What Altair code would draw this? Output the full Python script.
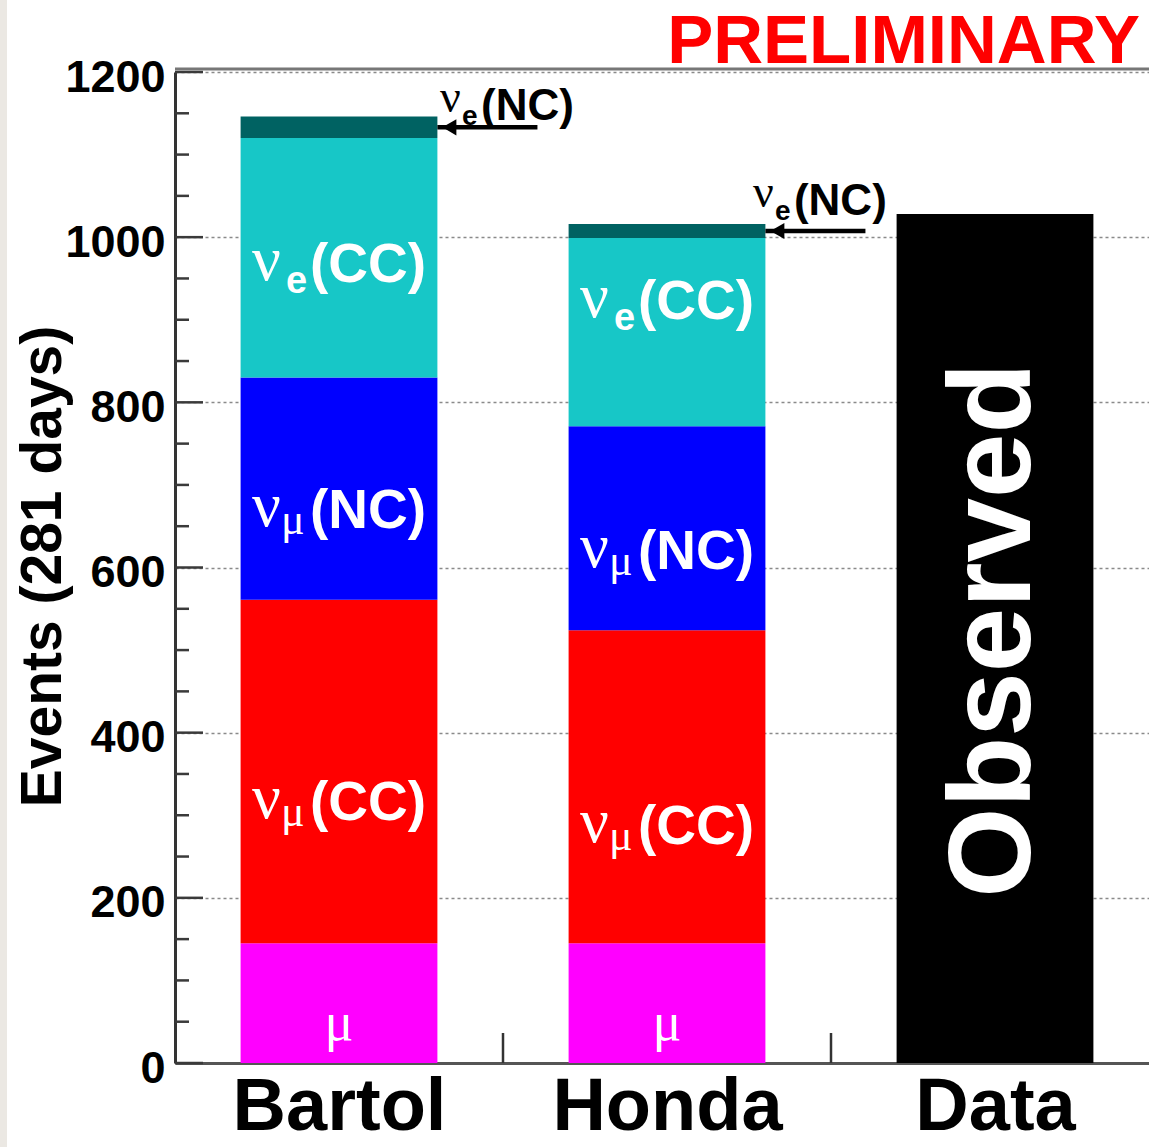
import json
import altair as alt
import pandas as pd

# ---- data -------------------------------------------------------------
models = ["Bartol", "Honda", "Data"]
components = ["μ", "νμ(CC)", "νμ(NC)", "νe(CC)", "νe(NC)", "Observed"]
bartol = [145, 416, 269, 290, 26]
honda = [145, 379, 247, 228, 17]
observed = [1028]
colors = ["#ff00ff", "#ff0000", "#0000ff", "#17c7c7", "#006262", "#000000"]

y_major = list(range(0, 1201, 200))
y_minor = [v for v in range(0, 1201, 50) if v % 200]

# in-bar labels: baseline heights in events
label_model = ["Bartol", "Bartol", "Bartol", "Honda", "Honda", "Honda"]
label_sub = ["e", "μ", "μ", "e", "μ", "μ"]
label_tail = ["(CC)", "(NC)", "(CC)", "(CC)", "(NC)", "(CC)"]
label_y = [946, 648, 294, 901, 598, 265]
mu_label_y = 28
observed_label_y = 524

# νe(NC) call-outs
callout_model = ["Bartol", "Honda"]
callout_text_x = [0.808, 1.762]
callout_text_y = [1142, 1027]

SANS = "Liberation Sans"
SERIF = "Liberation Serif"

# ---- tables -------------------------------------------------------------
rows = []
for m, vals in (("Bartol", bartol), ("Honda", honda)):
    for k, v in enumerate(vals):
        rows.append(dict(model=m, idx=models.index(m), component=components[k], order=k, value=v))
rows.append(dict(model="Data", idx=2, component="Observed", order=0, value=observed[0]))
seg = pd.DataFrame(rows)

labels = pd.DataFrame(dict(
    idx=[models.index(m) for m in label_model], sub=label_sub, tail=label_tail, y=label_y))
mu_labels = pd.DataFrame(dict(idx=[0, 1], y=[mu_label_y, mu_label_y]))
obs_label = pd.DataFrame(dict(idx=[2], y=[observed_label_y], text=["Observed"]))

arrow_y = [sum(bartol[:-1]) + bartol[-1] / 2, sum(honda[:-1]) + honda[-1] / 2]
callouts = pd.DataFrame(dict(
    idx=[models.index(m) for m in callout_model],
    tx=callout_text_x, ty=callout_text_y, ay=arrow_y))

ticks_major = pd.DataFrame(dict(v=y_major))
ticks_minor = pd.DataFrame(dict(v=y_minor))
x_bounds = pd.DataFrame(dict(b=[1, 2]))

# ---- scales / axes ------------------------------------------------------
W, H = 974, 991
xscale = alt.Scale(domain=[0, 3], range=[0, 984], nice=False, zero=False)
yscale = alt.Scale(domain=[0, 1200], nice=False, zero=True)

label_expr = f"{json.dumps(models, ensure_ascii=False)}[floor(datum.value)]"
xaxis = alt.Axis(
    values=[0.5, 1.5, 2.5], labelExpr=label_expr, title=None, ticks=False, tickSize=0,
    grid=False, domainColor="#555555", domainWidth=3,
    labelFont=SANS, labelFontWeight="bold", labelFontSize=74, labelColor="black",
    labelPadding=8, labelOverlap=False, labelFlush=False, labelBound=False, labelLimit=0,
)
yaxis = alt.Axis(
    values=y_major, format="d", ticks=False, tickSize=0,
    grid=True, gridColor="#8a8a8a", gridDash=[3, 3], gridWidth=1.5,
    domainColor="#333333", domainWidth=3,
    labelFont=SANS, labelFontWeight="bold", labelFontSize=45, labelColor="black",
    labelPadding=10, labelOffset=5, labelOverlap=False, labelFlush=False, labelLimit=0,
    title="Events (281 days)", titleFont=SANS, titleFontWeight="bold", titleFontSize=57,
    titleColor="black", titleAngle=270, titleAlign="center", titleBaseline="alphabetic",
    titleX=-115, titleY=494, titleLimit=0,
)


def X(field):
    return alt.X(field, type="quantitative", scale=xscale, axis=xaxis)


def Y(field):
    return alt.Y(field, type="quantitative", scale=yscale, axis=yaxis)


# ---- stacked bars -------------------------------------------------------
bars = (
    alt.Chart(seg)
    .transform_stack(stack="value", groupby=["model"], as_=["y0", "y1"],
                     sort=[alt.SortField("order", order="ascending")])
    .transform_calculate(x0="datum.idx + 0.2", x1="datum.idx + 0.8")
    .mark_bar()
    .encode(
        x=X("x0"), x2="x1:Q",
        y=Y("y0"), y2="y1:Q",
        color=alt.Color("component:N", scale=alt.Scale(domain=components, range=colors), legend=None),
    )
)

# ---- frame and ticks ----------------------------------------------------
tick_major = alt.Chart(ticks_major).mark_rule(color="#3a3a3a", strokeWidth=2.5).encode(
    x=alt.value(0), x2=alt.value(28), y=Y("v"))
tick_minor = alt.Chart(ticks_minor).mark_rule(color="#3a3a3a", strokeWidth=2.5).encode(
    x=alt.value(0), x2=alt.value(14), y=Y("v"))
tick_x = alt.Chart(x_bounds).mark_rule(color="#333333", strokeWidth=2.5).encode(
    x=X("b"), y=alt.value(H - 30), y2=alt.value(H))
top_frame = alt.Chart(ticks_major).transform_filter("datum.v == 1200").mark_rule(
    color="#777777", strokeWidth=3).encode(x=alt.value(0), x2=alt.value(W), y=alt.value(-3))
side_strip = alt.Chart(ticks_major).transform_filter("datum.v == 0").mark_rect(
    color="#ebe8e3").encode(x=alt.value(-175), x2=alt.value(-168), y=alt.value(-72), y2=alt.value(H + 84))

# ---- in-bar labels --------------------------------------------------------
lab_base = alt.Chart(labels).transform_calculate(xc="datum.idx + 0.5")
lab_nu = lab_base.mark_text(font=SERIF, fontSize=64, color="white", align="left",
                            baseline="alphabetic", dx=-87, dy=-2).encode(
    x=X("xc"), y=Y("y"), text=alt.value("ν"))
lab_sub_e = lab_base.transform_filter("datum.sub == 'e'").mark_text(
    font=SANS, fontWeight="bold", fontSize=38, color="white", align="left",
    baseline="alphabetic", dx=-53, dy=11).encode(
    x=X("xc"), y=Y("y"), text="sub:N")
lab_sub_mu = lab_base.transform_filter("datum.sub == 'μ'").mark_text(
    font=SERIF, fontSize=44, color="white", align="left",
    baseline="alphabetic", dx=-58, dy=6).encode(
    x=X("xc"), y=Y("y"), text="sub:N")
lab_tail = lab_base.mark_text(font=SANS, fontWeight="bold", fontSize=55, color="white",
                              align="left", baseline="alphabetic", dx=-29).encode(
    x=X("xc"), y=Y("y"), text="tail:N")
lab_mu = alt.Chart(mu_labels).transform_calculate(xc="datum.idx + 0.5").mark_text(
    font=SERIF, fontSize=54, color="white", align="center", baseline="alphabetic").encode(
    x=X("xc"), y=Y("y"), text=alt.value("μ"))
lab_obs = alt.Chart(obs_label).transform_calculate(xc="datum.idx + 0.5").mark_text(
    font=SANS, fontWeight="bold", fontSize=116, color="white", align="center",
    baseline="middle", angle=270).encode(
    x=X("xc"), y=Y("y"), text="text:N")

# ---- νe(NC) call-outs ----------------------------------------------------
co = alt.Chart(callouts).transform_calculate(a0="datum.idx + 0.8", a1="datum.idx + 1.105")
arrow_line = co.mark_rule(color="black", strokeWidth=4.5).encode(
    x=X("a0"), x2="a1:Q", y=Y("ay"))
arrow_head = co.mark_point(shape="triangle-left", filled=True, color="black", size=260,
                           opacity=1, xOffset=12).encode(x=X("a0"), y=Y("ay"))
co_nu = co.mark_text(font=SERIF, fontSize=46, color="black", align="left",
                     baseline="alphabetic", dy=-8).encode(x=X("tx"), y=Y("ty"), text=alt.value("ν"))
co_e = co.mark_text(font=SANS, fontWeight="bold", fontSize=28, color="black", align="left",
                    baseline="alphabetic", dx=22, dy=5).encode(x=X("tx"), y=Y("ty"), text=alt.value("e"))
co_tail = co.mark_text(font=SANS, fontWeight="bold", fontSize=44, color="black", align="left",
                       baseline="alphabetic", dx=41).encode(x=X("tx"), y=Y("ty"), text=alt.value("(NC)"))

prelim = alt.Chart(ticks_major).transform_filter("datum.v == 1200").mark_text(
    font=SANS, fontWeight="bold", fontSize=69, color="#ff0000", align="right",
    baseline="alphabetic").encode(x=alt.value(W - 9), y=alt.value(-9), text=alt.value("PRELIMINARY"))

chart = (
    alt.layer(
        bars, tick_major, tick_minor, tick_x, top_frame, side_strip,
        lab_nu, lab_sub_e, lab_sub_mu, lab_tail, lab_mu, lab_obs,
        arrow_line, arrow_head, co_nu, co_e, co_tail, prelim,
    )
    .properties(
        width=W, height=H,
        autosize=alt.AutoSizeParams(type="none"),
        padding={"left": 175, "top": 72, "right": 0, "bottom": 84},
        background="white",
    )
    .configure_view(stroke=None)
)

chart.save("out.html", embed_options={"renderer": "svg", "actions": False})
